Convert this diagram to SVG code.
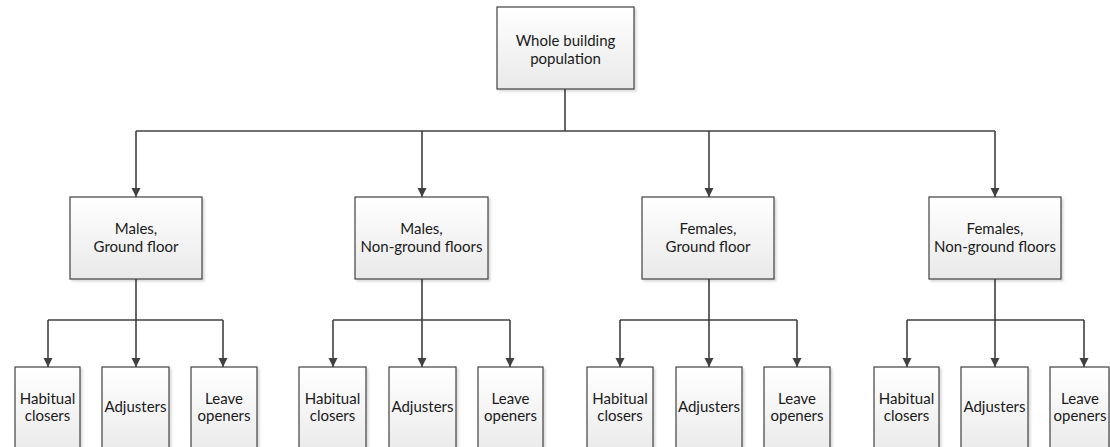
<svg xmlns="http://www.w3.org/2000/svg" width="1110" height="447" viewBox="0 0 1110 447">
<defs>
<linearGradient id="g" x1="0" y1="0" x2="0" y2="1">
<stop offset="0" stop-color="#ffffff"/>
<stop offset="1" stop-color="#e9e9e9"/>
</linearGradient>
<marker id="ah" markerWidth="10" markerHeight="10" refX="9" refY="5" orient="auto" markerUnits="userSpaceOnUse">
<path d="M0,0.5 L9,5 L0,9.5 Z" fill="#404040"/>
</marker>
<filter id="sh" x="-10%" y="-10%" width="130%" height="130%">
<feDropShadow dx="2" dy="2" stdDeviation="0.8" flood-color="#000" flood-opacity="0.15"/>
</filter>
</defs>
<style>
.box{fill:url(#g);stroke:#404040;stroke-width:1.2;filter:url(#sh)}
.c{fill:none;stroke:#404040;stroke-width:1.6}
.a{marker-end:url(#ah)}
text{font-family:Lato,"Liberation Sans",sans-serif;font-size:15px;fill:#1a1a1a;text-anchor:middle}
</style>
<g id="connectors">
<path class="c" d="M565,89 V131"/>
<path class="c" d="M136,131 H995"/>
<path class="c a" d="M136,131 V197"/>
<path class="c a" d="M422,131 V197"/>
<path class="c a" d="M709,131 V197"/>
<path class="c a" d="M995,131 V197"/>
<path class="c" d="M136,279 V320 M48,320 H223"/>
<path class="c a" d="M48,320 V367"/><path class="c a" d="M136,320 V367"/><path class="c a" d="M223,320 V367"/>
<path class="c" d="M422,279 V320 M333,320 H510"/>
<path class="c a" d="M333,320 V367"/><path class="c a" d="M422,320 V367"/><path class="c a" d="M510,320 V367"/>
<path class="c" d="M709,279 V320 M620,320 H797"/>
<path class="c a" d="M620,320 V367"/><path class="c a" d="M709,320 V367"/><path class="c a" d="M797,320 V367"/>
<path class="c" d="M995,279 V320 M907,320 H1084"/>
<path class="c a" d="M907,320 V367"/><path class="c a" d="M995,320 V367"/><path class="c a" d="M1084,320 V367"/>
</g>
<g id="root"><rect class="box" x="497" y="7" width="137" height="82"/><text x="565.5" y="46">Whole building</text><text x="565.5" y="64">population</text></g>
<g id="mg"><rect class="box" x="70" y="197" width="132" height="82"/><text x="136" y="234">Males,</text><text x="136" y="252">Ground floor</text></g>
<g id="mn"><rect class="box" x="355" y="197" width="133" height="82"/><text x="421.5" y="234">Males,</text><text x="421.5" y="252">Non-ground floors</text></g>
<g id="fg"><rect class="box" x="642" y="197" width="132" height="82"/><text x="708" y="234">Females,</text><text x="708" y="252">Ground floor</text></g>
<g id="fn"><rect class="box" x="929" y="197" width="132" height="82"/><text x="995" y="234">Females,</text><text x="995" y="252">Non-ground floors</text></g>
<g id="mg-h"><rect class="box" x="15" y="367" width="65" height="90"/><text x="47.5" y="404">Habitual</text><text x="47.5" y="421">closers</text></g>
<g id="mg-a"><rect class="box" x="102" y="367" width="67" height="90"/><text x="135.5" y="412">Adjusters</text></g>
<g id="mg-l"><rect class="box" x="191" y="367" width="66" height="90"/><text x="224" y="404">Leave</text><text x="224" y="421">openers</text></g>
<g id="mn-h"><rect class="box" x="299" y="367" width="67" height="90"/><text x="332.5" y="404">Habitual</text><text x="332.5" y="421">closers</text></g>
<g id="mn-a"><rect class="box" x="389" y="367" width="67" height="90"/><text x="422.5" y="412">Adjusters</text></g>
<g id="mn-l"><rect class="box" x="478" y="367" width="65" height="90"/><text x="510.5" y="404">Leave</text><text x="510.5" y="421">openers</text></g>
<g id="fg-h"><rect class="box" x="587" y="367" width="66" height="90"/><text x="620" y="404">Habitual</text><text x="620" y="421">closers</text></g>
<g id="fg-a"><rect class="box" x="676" y="367" width="66" height="90"/><text x="709" y="412">Adjusters</text></g>
<g id="fg-l"><rect class="box" x="764" y="367" width="66" height="90"/><text x="797" y="404">Leave</text><text x="797" y="421">openers</text></g>
<g id="fn-h"><rect class="box" x="874" y="367" width="65" height="90"/><text x="906.5" y="404">Habitual</text><text x="906.5" y="421">closers</text></g>
<g id="fn-a"><rect class="box" x="961" y="367" width="67" height="90"/><text x="994.5" y="412">Adjusters</text></g>
<g id="fn-l"><rect class="box" x="1050" y="367" width="59" height="90"/><text x="1080" y="404">Leave</text><text x="1080" y="421">openers</text></g>
</svg>
